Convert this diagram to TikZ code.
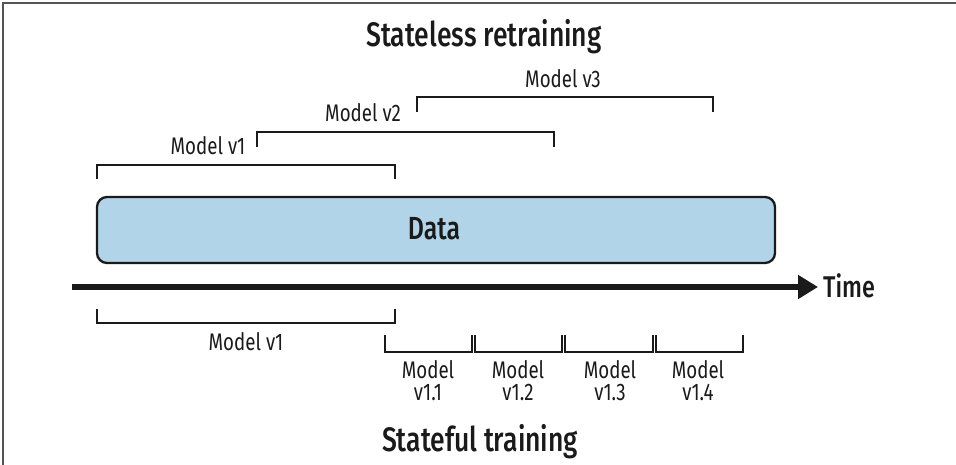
\documentclass[tikz,border=0pt]{standalone}
\usepackage{fontspec}
\setmainfont[FakeStretch=0.78]{Fira Sans}
\newfontfamily\medf[FakeStretch=0.78]{Fira Sans Medium}
\usetikzlibrary{arrows.meta}
\definecolor{databg}{HTML}{B1D4E8}
\definecolor{ink}{HTML}{1A1A1A}
\definecolor{framec}{HTML}{555555}
\begin{document}
\begin{tikzpicture}[x=1pt,y=-1pt]
\tikzset{
  lbl/.style={font=\fontsize{24}{26}\selectfont, text=ink, inner sep=0pt, anchor=base},
  bigtitle/.style={font=\medf\fontsize{34}{38}\selectfont, text=ink, inner sep=0pt, anchor=base},
  boldlbl/.style={font=\medf\fontsize{32}{34}\selectfont, text=ink, inner sep=0pt, anchor=base},
  brk/.style={draw=ink, line width=2.3pt},
  databox/.style={draw=ink, line width=2.3pt, fill=databg, rounded corners=10pt},
}
\useasboundingbox (0,0) rectangle (956,465);
\draw[framec, line width=1.5pt] (3,465) -- (3,3) -- (956,3);

% titles
\node[bigtitle] (ttop) at (484,47) {Stateless retraining};
\node[bigtitle] (tbot) at (480,451) {Stateful training};

% top brackets (stateless)
\draw[brk] (97,179) -- (97,165) -- (395,165) -- (395,179);
\draw[brk] (257,147) -- (257,132) -- (554,132) -- (554,147);
\draw[brk] (417,112) -- (417,97) -- (713,97) -- (713,112);
\node[lbl] (sv1) at (208,155) {Model v1};
\node[lbl] (sv2) at (363,122) {Model v2};
\node[lbl] (sv3) at (563,88) {Model v3};

% data box
\draw[databox] (97,197) rectangle (775,263);
\node[boldlbl] (data) at (434,240) {Data};

% time axis
\coordinate (ax0) at (72,287);
\coordinate (ax1) at (818,287);
\draw[ink, line width=5.5pt, -{Triangle[length=20pt,width=23pt]}] (ax0) -- (ax1);
\node[boldlbl, font=\medf\fontsize{30}{32}\selectfont, anchor=base west] (time) at (823,298) {Time};

% bottom brackets (stateful)
\draw[brk] (97,309) -- (97,323) -- (395,323) -- (395,309);
\node[lbl] (fv1) at (246,350) {Model v1};

\draw[brk] (385,335) -- (385,352) -- (472,352) -- (472,335);
\draw[brk] (475,335) -- (475,352) -- (562,352) -- (562,335);
\draw[brk] (565,335) -- (565,352) -- (653,352) -- (653,335);
\draw[brk] (656,335) -- (656,352) -- (743,352) -- (743,335);

\node[lbl] (m1a) at (428,378) {Model};
\node[lbl] (m1b) at (428,400) {v1.1};
\node[lbl] (m2a) at (518,378) {Model};
\node[lbl] (m2b) at (518,400) {v1.2};
\node[lbl] (m3a) at (610,378) {Model};
\node[lbl] (m3b) at (610,400) {v1.3};
\node[lbl] (m4a) at (698,378) {Model};
\node[lbl] (m4b) at (698,400) {v1.4};
\end{tikzpicture}
\end{document}
